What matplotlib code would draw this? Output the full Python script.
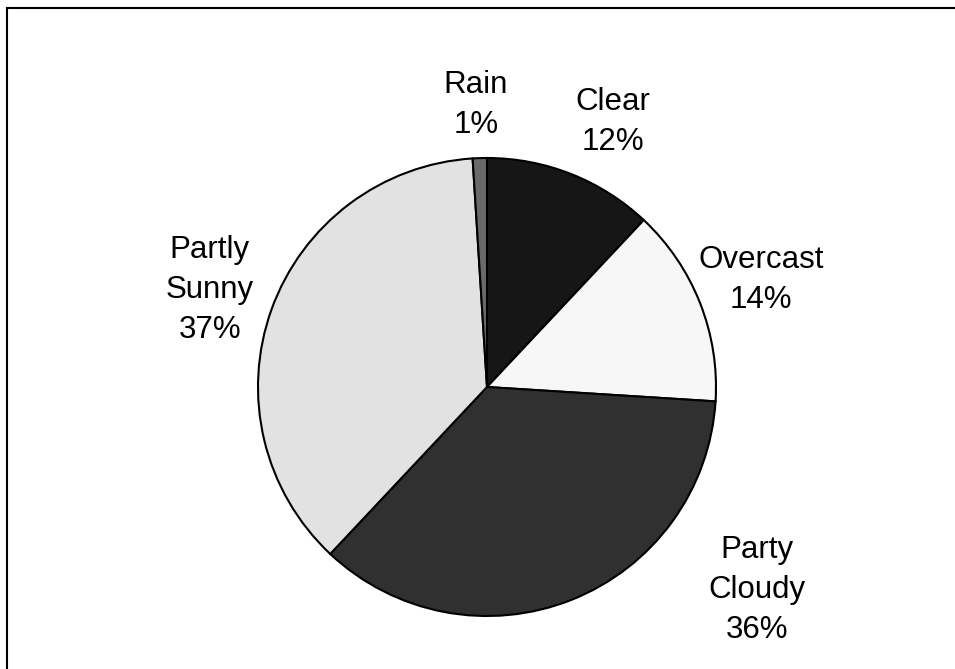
import matplotlib.pyplot as plt
from matplotlib.patches import Rectangle

plt.rcParams['font.family'] = ['Liberation Sans', 'DejaVu Sans']

# sky conditions share, clockwise from 12 o'clock
conditions = ['Clear', 'Overcast', 'Party\nCloudy', 'Partly\nSunny', 'Rain']
shares = [12, 14, 36, 37, 1]
colors = ['#161616', '#f7f7f7', '#303030', '#e2e2e2', '#6a6a6a']

# label centres in pie-radius units
label_pos = [(0.55, 1.157), (1.197, 0.467), (1.179, -0.886),
             (-1.21, 0.424), (-0.048, 1.231)]

W, H = 955, 669
cx, cy, r = 487, 387, 229

fig = plt.figure(figsize=(W / 100, H / 100), dpi=100)
ax = fig.add_axes([0, 0, 1, 1])

ax.pie(shares, colors=colors, startangle=90, counterclock=False, radius=1,
       wedgeprops=dict(edgecolor='black', linewidth=1.5), frame=True)
ax.set_xlim(-cx / r, (W - cx) / r)
ax.set_ylim((cy - H) / r, cy / r)
ax.set_aspect('auto')
ax.axis('off')

for name, val, (x, y) in zip(conditions, shares, label_pos):
    ax.text(x, y, f'{name}\n{val}%', ha='center', va='center',
            fontsize=22.5, color='black', linespacing=1.42)

# outer chart border (right and bottom run past the canvas)
fig.patches.append(Rectangle((6.5 / W, -0.1), 1.2, (H - 8) / H + 0.1,
                             transform=fig.transFigure, fill=False,
                             edgecolor='black', linewidth=1.5))

fig.savefig('out.png', dpi=100)
